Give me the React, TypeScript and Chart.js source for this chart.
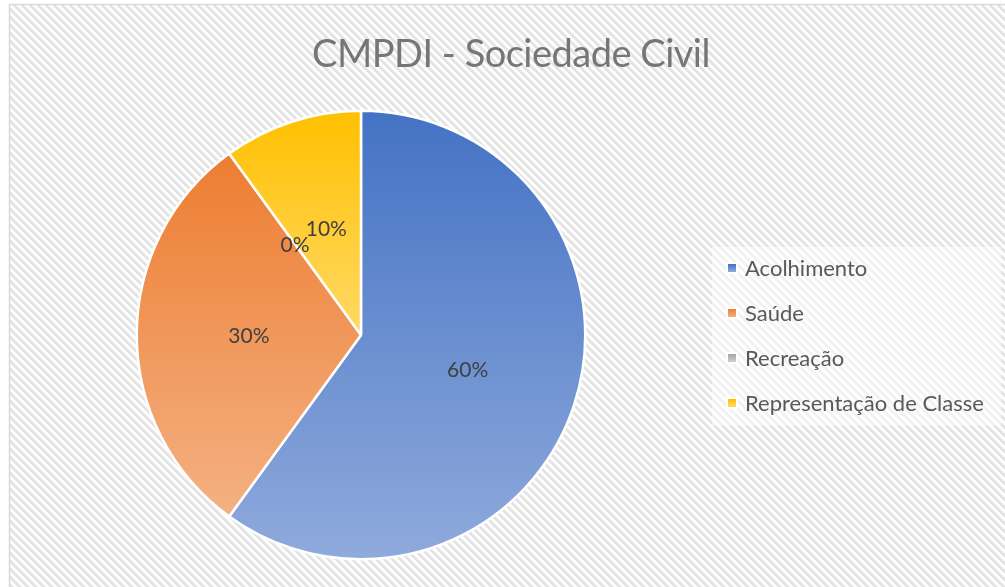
import React, { useEffect, useRef } from "react";
import { Chart, registerables } from "chart.js";

Chart.register(...registerables);

const chartTitle = "CMPDI - Sociedade Civil";
const categories = ["Acolhimento", "Saúde", "Recreação", "Representação de Classe"];
const values = [60, 30, 0, 10];
const topColors = ["#4472C4", "#ED7D31", "#A5A5A5", "#FFC000"];
const bottomColors = ["#8FAADC", "#F4B183", "#CFCFCF", "#FFD966"];

const W = 1005;
const H = 587;
const BORDER_W = 2.5;
const FONT = "Lato, 'Open Sans', sans-serif";

function sliceYRange(cy: number, r: number, a0: number, a1: number): [number, number] {
  const ys = [cy, cy + r * Math.sin(a0), cy + r * Math.sin(a1)];
  for (const k of [-Math.PI / 2, Math.PI / 2, (3 * Math.PI) / 2, (5 * Math.PI) / 2]) {
    if (k >= a0 && k <= a1) ys.push(cy + r * Math.sin(k));
  }
  let mn = Math.min(...ys);
  let mx = Math.max(...ys);
  if (mx - mn < 1) mx = mn + 1;
  return [mn, mx];
}

function makePattern(ctx: CanvasRenderingContext2D) {
  const tile = document.createElement("canvas");
  tile.width = 8;
  tile.height = 8;
  const t = tile.getContext("2d")!;
  for (let y = 0; y < 8; y++) {
    for (let x = 0; x < 8; x++) {
      const m = (((x - y) % 8) + 8) % 8;
      let c = "#ffffff";
      if (m <= 2) c = "#e4e4e4";
      else if (m === 3 || m === 7) c = "#efefef";
      t.fillStyle = c;
      t.fillRect(x, y, 1, 1);
    }
  }
  return ctx.createPattern(tile, "repeat")!;
}

const decorPlugin = {
  id: "decor",
  beforeDraw(chart: any) {
    const ctx: CanvasRenderingContext2D = chart.ctx;
    ctx.save();
    ctx.fillStyle = "#ffffff";
    ctx.fillRect(0, 0, W, H);
    ctx.fillStyle = makePattern(ctx);
    ctx.fillRect(10, 5, W, H);
    ctx.strokeStyle = "#d9d9d9";
    ctx.lineWidth = 1.5;
    ctx.strokeRect(9.5, 4.5, W + 20, H + 20);

    // title
    ctx.fillStyle = "#767676";
    ctx.font = `38px ${FONT}`;
    (ctx as any).letterSpacing = "-0.5px";
    ctx.textAlign = "center";
    ctx.textBaseline = "alphabetic";
    ctx.fillText(chartTitle, 511, 67);
    (ctx as any).letterSpacing = "0px";

    // legend
    ctx.fillStyle = "rgba(255,255,255,0.5)";
    ctx.fillRect(712, 247, 289, 179);
    ctx.font = `22px ${FONT}`;
    ctx.textAlign = "left";
    categories.forEach((name, i) => {
      const cy = 268 + i * 45;
      ctx.fillStyle = "#ffffff";
      ctx.fillRect(726, cy - 6, 12, 12);
      const g = ctx.createLinearGradient(0, cy - 4, 0, cy + 4);
      g.addColorStop(0, topColors[i]);
      g.addColorStop(1, bottomColors[i]);
      ctx.fillStyle = g;
      ctx.fillRect(728, cy - 4, 8, 8);
      ctx.fillStyle = "#595959";
      ctx.fillText(name, 745, cy + 8);
    });
    ctx.restore();
  },
  afterDatasetsDraw(chart: any) {
    const ctx: CanvasRenderingContext2D = chart.ctx;
    const meta = chart.getDatasetMeta(0);
    const data = chart.data.datasets[0].data as number[];
    const total = data.reduce((a, b) => a + b, 0);
    ctx.save();
    ctx.font = `21px ${FONT}`;
    ctx.fillStyle = "#404040";
    ctx.textAlign = "center";
    ctx.textBaseline = "alphabetic";
    meta.data.forEach((arc: any, i: number) => {
      const p = arc.getCenterPoint();
      const pct = Math.round((data[i] / total) * 100) + "%";
      ctx.fillText(pct, p.x, p.y + 7.5);
    });
    ctx.restore();
  },
};

export default function App() {
  const ref = useRef<HTMLCanvasElement>(null);
  useEffect(() => {
    document.body.style.margin = "0";
    const canvas = ref.current!;
    const total = values.reduce((a, b) => a + b, 0);
    const chart = new Chart(canvas, {
      type: "pie",
      data: {
        labels: categories,
        datasets: [
          {
            data: values,
            borderColor: "#ffffff",
            borderWidth: BORDER_W,
            backgroundColor: (c: any) => {
              const i = c.dataIndex;
              const area = c.chart.chartArea;
              if (!area || i === undefined) return topColors[i ?? 0];
              const cx = (area.left + area.right) / 2;
              const cy = (area.top + area.bottom) / 2;
              const r = (Math.min(area.width, area.height) - BORDER_W) / 2;
              let cum = 0;
              for (let k = 0; k < i; k++) cum += values[k];
              const a0 = -Math.PI / 2 + (2 * Math.PI * cum) / total;
              const a1 = -Math.PI / 2 + (2 * Math.PI * (cum + values[i])) / total;
              const [y0, y1] = sliceYRange(cy, r, a0, a1);
              const g = c.chart.ctx.createLinearGradient(0, y0, 0, y1);
              g.addColorStop(0, topColors[i]);
              g.addColorStop(1, bottomColors[i]);
              return g;
            },
          },
        ],
      },
      options: {
        responsive: false,
        devicePixelRatio: 1,
        animation: false,
        layout: { padding: { left: 135.5, right: 418.5, top: 109.5, bottom: 26.5 } },
        plugins: {
          legend: { display: false },
          title: { display: false },
          tooltip: { enabled: false },
        },
      },
      plugins: [decorPlugin],
    });
    return () => chart.destroy();
  }, []);
  return (
    <div style={{ position: "absolute", left: 0, top: 0, width: W, height: H }}>
      <canvas ref={ref} width={W} height={H} style={{ width: W, height: H, display: "block" }} />
    </div>
  );
}
